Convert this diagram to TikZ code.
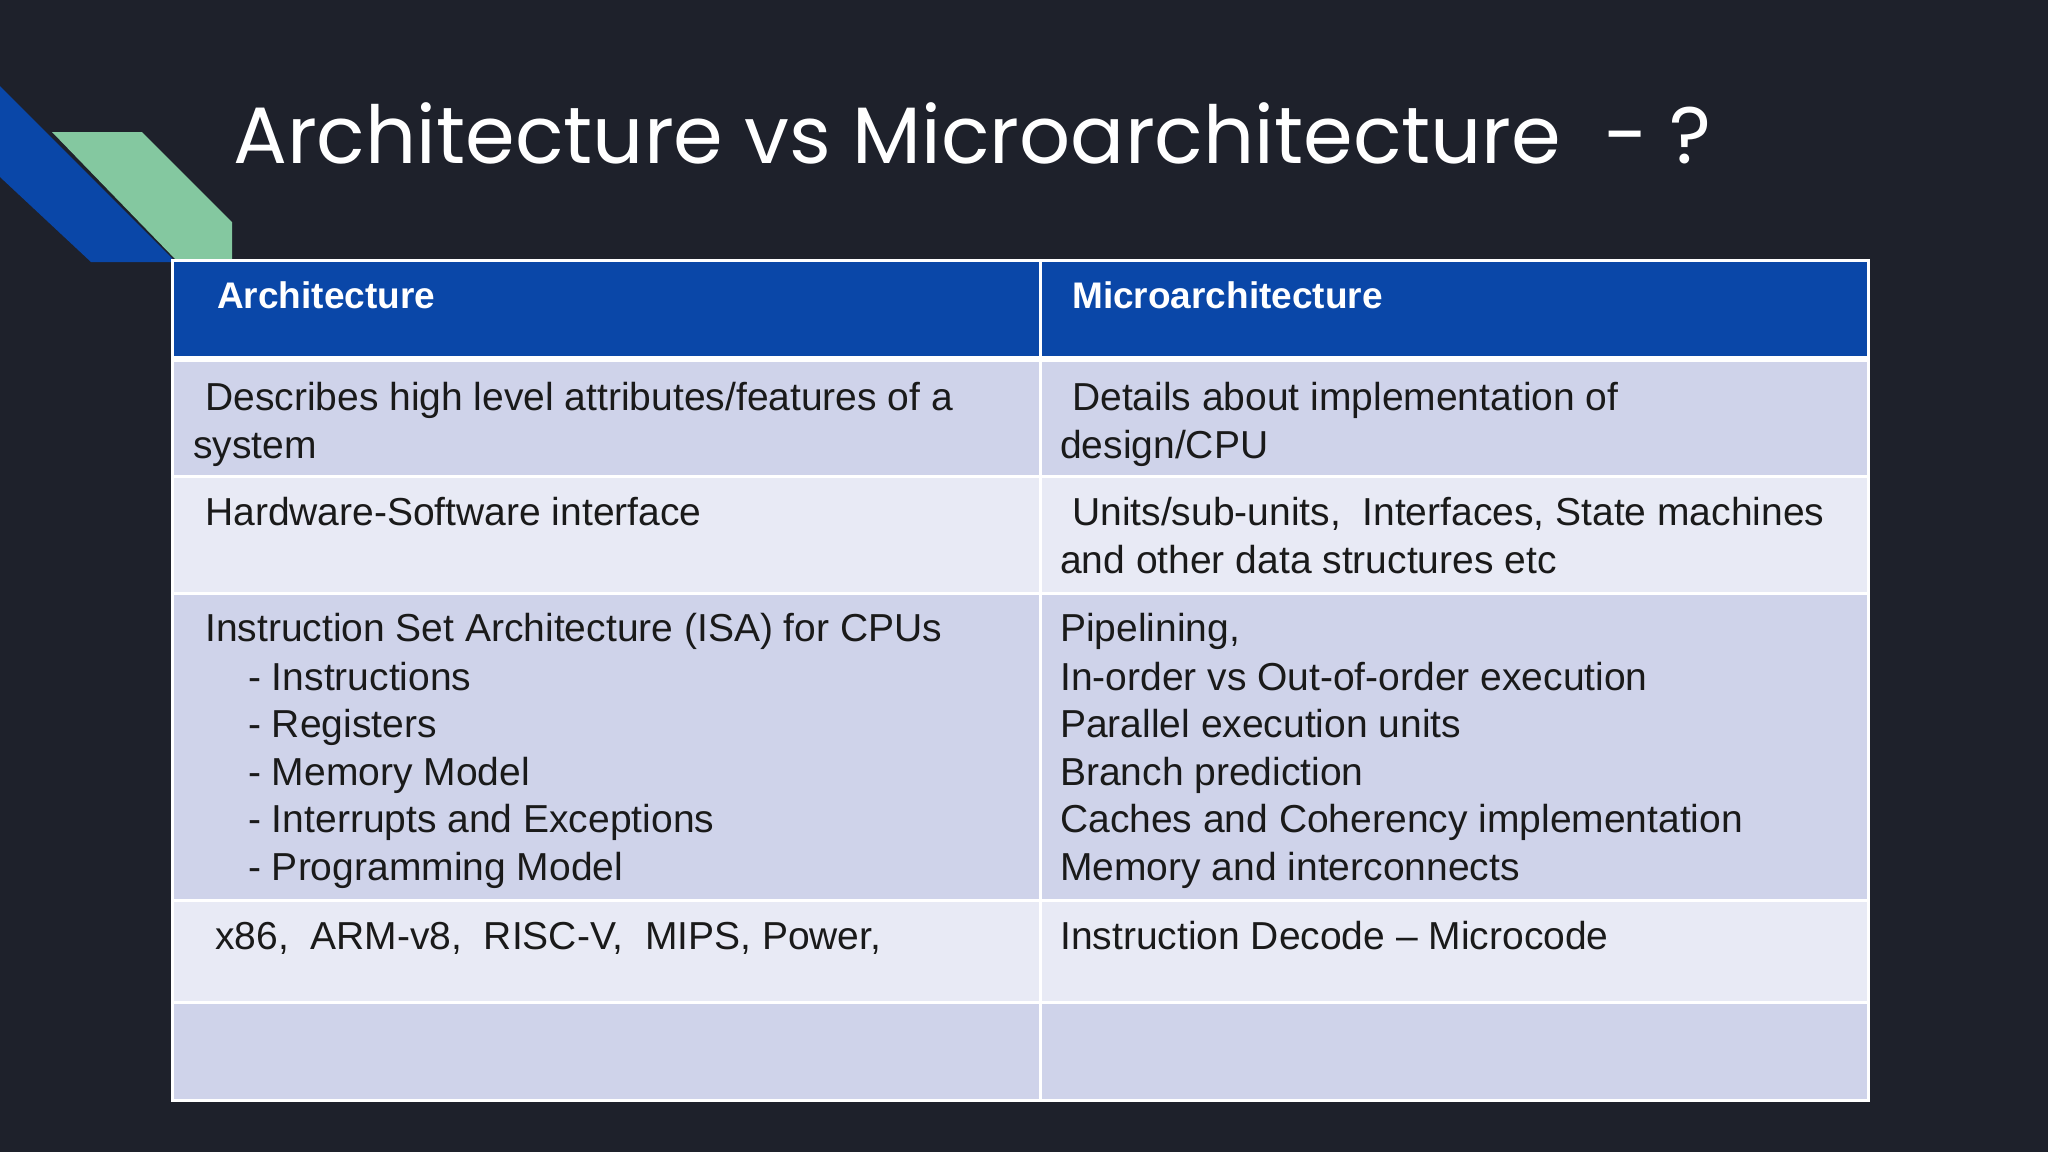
\documentclass[tikz,border=0pt]{standalone}
\usepackage{fontspec}
\setmainfont{Liberation Sans}
\newfontfamily\titlefont{Poppins}
\definecolor{bg}{HTML}{1E212B}
\definecolor{dblue}{HTML}{0A47A8}
\definecolor{gr}{HTML}{84C8A0}
\definecolor{rowa}{HTML}{CFD3EA}
\definecolor{rowb}{HTML}{E8EAF5}
\definecolor{txt}{HTML}{1A1A1A}
\begin{document}
\begin{tikzpicture}[x=1pt,y=-1pt,
  ln/.style={anchor=base west,inner sep=0,font=\fontsize{39}{48}\selectfont,text=txt},
  hd/.style={anchor=base west,inner sep=0,font=\fontsize{37}{44}\selectfont\bfseries,text=white},
  cellb/.style={draw=white,line width=4pt}]
\fill[bg] (0,0) rectangle (2048,1152);
\useasboundingbox (0,0) rectangle (2048,1152);
\fill[dblue] (0,86) -- (176,262) -- (91,262) -- (0,177) -- cycle;
\fill[gr] (52,132) -- (142,132) -- (232,222) -- (232,262) -- (178,262) -- cycle;
\node[anchor=base west,inner sep=0,text=white,font=\titlefont\fontsize{80}{90}\selectfont] (title) at (233,163) {Architecture vs Microarchitecture~~- ?};
% table
\fill[dblue] (172,260) rectangle (1868,357);
\fill[rowa] (172,360) rectangle (1868,476);
\fill[rowb] (172,476) rectangle (1868,593);
\fill[rowa] (172,593) rectangle (1868,900);
\fill[rowb] (172,900) rectangle (1868,1002);
\fill[rowa] (172,1002) rectangle (1868,1100);
\draw[white,line width=6pt] (172,359) -- (1868,359);
\foreach \y in {476,593,900,1002} \draw[white,line width=3pt] (172,\y) -- (1868,\y);
\draw[white,line width=3pt] (1040,260) -- (1040,1100);
\draw[white,line width=3pt] (172,260) rectangle (1868,1100);
\node[hd] (h1) at (217,308) {Architecture};
\node[hd] (h2) at (1072,308) {Microarchitecture};
\node[ln] (a1) at (205,410) {Describes high level attributes/features of a};
\node[ln] (a2) at (193,458) {system};
\node[ln] (b1) at (205,525) {Hardware-Software interface};
\node[ln] (c1) at (205,641) {Instruction Set Architecture (ISA) for CPUs};
\node[ln] (c2) at (248,690) {- Instructions};
\node[ln] (c3) at (248,737) {- Registers};
\node[ln] (c4) at (248,785) {- Memory Model};
\node[ln] (c5) at (248,832) {- Interrupts and Exceptions};
\node[ln] (c6) at (248,880) {- Programming Model};
\node[ln] (d1) at (215,949) {x86,~~ARM-v8,~~RISC-V,~~MIPS, Power,};
\node[ln] (m1) at (1072,410) {Details about implementation of};
\node[ln] (m2) at (1060,458) {design/CPU};
\node[ln] (n1) at (1072,525) {Units/sub-units,~~Interfaces, State machines};
\node[ln] (n2) at (1060,573) {and other data structures etc};
\node[ln] (o1) at (1060,641) {Pipelining,};
\node[ln] (o2) at (1060,690) {In-order vs Out-of-order execution};
\node[ln] (o3) at (1060,737) {Parallel execution units};
\node[ln] (o4) at (1060,785) {Branch prediction};
\node[ln] (o5) at (1060,832) {Caches and Coherency implementation};
\node[ln] (o6) at (1060,880) {Memory and interconnects};
\node[ln] (p1) at (1060,949) {Instruction Decode -- Microcode};
\end{tikzpicture}
\end{document}
